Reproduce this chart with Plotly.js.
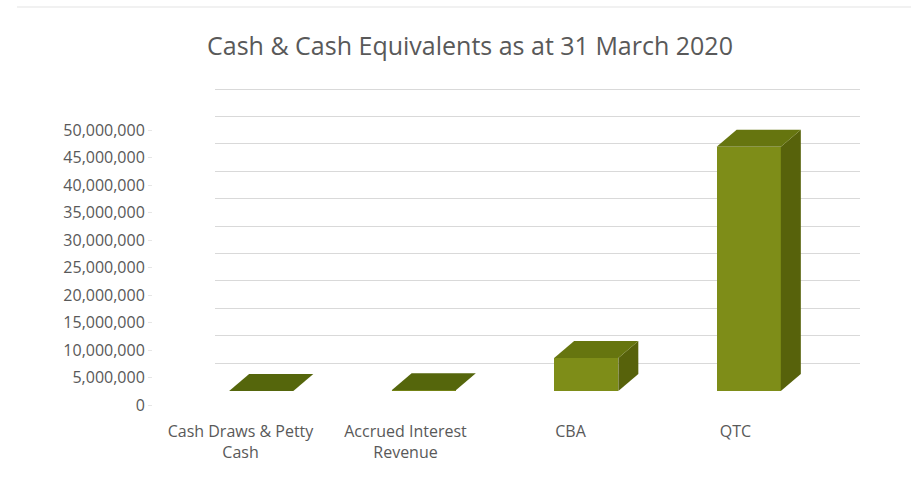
<!DOCTYPE html>
<html>
<head>
<meta charset="utf-8">
<script src="https://cdn.plot.ly/plotly-3.0.1.min.js"></script>
<style>html,body{margin:0;padding:0;background:#fff;}#chart{width:911px;height:477px;}</style>
</head>
<body>
<div id="chart"></div>
<script>
// ---- data ----
const categories = ["Cash Draws & Petty<br>Cash", "Accrued Interest<br>Revenue", "CBA", "QTC"];
const values = [3000, 150000, 6000000, 44400000];
const yTickVals = [0, 5000000, 10000000, 15000000, 20000000, 25000000, 30000000, 35000000, 40000000, 45000000, 50000000];
const yTickText = ["0", "5,000,000", "10,000,000", "15,000,000", "20,000,000", "25,000,000", "30,000,000", "35,000,000", "40,000,000", "45,000,000", "50,000,000"];

// ---- style / geometry (pixels in a 911x477 figure) ----
const W = 911, H = 477;
const fx = p => p / W, fy = p => 1 - p / H;
const barW = 0.395;          // front face width (category units)
const depthX = 0.123;        // 3D depth offset (category units)
const depthY = 3.1e6;        // 3D depth offset (value units)
const cFront = '#7e8d18', cTop = '#66750f', cSide = '#57620b';

const idx = categories.map((_, i) => i);
const traces = [];

// invisible traces to activate label and grid axes (drawn first, underneath)
traces.push({type: 'scatter', x: idx, y: values, mode: 'markers', marker: {opacity: 0}, xaxis: 'x2', yaxis: 'y2', hoverinfo: 'skip', showlegend: false});
traces.push({type: 'scatter', x: idx, y: values, mode: 'markers', marker: {opacity: 0}, xaxis: 'x', yaxis: 'y', hoverinfo: 'skip', showlegend: false});

// front faces
traces.push({type: 'bar', x: idx, y: values, width: barW, xaxis: 'x3', yaxis: 'y3',
  marker: {color: cFront, line: {width: 0}}, hoverinfo: 'skip', showlegend: false});

// top and side faces built from data
values.forEach((v, i) => {
  const l = i - barW / 2, r = i + barW / 2;
  traces.push({type: 'scatter', mode: 'lines', fill: 'toself', xaxis: 'x3', yaxis: 'y3',
    x: [r, r + depthX, r + depthX, r, r], y: [0, depthY, v + depthY, v, 0],
    fillcolor: cSide, line: {width: 0, color: cSide}, hoverinfo: 'skip', showlegend: false});
  traces.push({type: 'scatter', mode: 'lines', fill: 'toself', xaxis: 'x3', yaxis: 'y3',
    x: [l, r, r + depthX, l + depthX, l], y: [v, v, v + depthY, v + depthY, v],
    fillcolor: v < 1e6 ? '#55660c' : cTop, line: {width: 0, color: cTop}, hoverinfo: 'skip', showlegend: false});
});

const font = {family: 'Open Sans, Liberation Sans, sans-serif', size: 16, color: '#595959'};
const gridPad = 2500000, gridPx = 274 / 50000000 * gridPad;
const layout = {
  width: W, height: H,
  margin: {l: 0, r: 0, t: 0, b: 0},
  paper_bgcolor: '#fff', plot_bgcolor: 'rgba(0,0,0,0)',
  font: font,
  title: {text: 'Cash &amp; Cash Equivalents as at 31 March 2020', x: 470 / W, xanchor: 'center', y: fy(46), yanchor: 'middle',
    font: {family: 'Open Sans, sans-serif', size: 25, color: '#595959'}},
  // grid axes (back wall)
  xaxis2: {domain: [fx(215), fx(860)], range: [0, 1], anchor: 'y2', visible: false, fixedrange: true},
  yaxis2: {domain: [fy(363 + gridPx), fy(89 - gridPx)], range: [-gridPad, 50000000 + gridPad], anchor: 'x2', tickvals: yTickVals,
    showticklabels: false, showgrid: true, gridcolor: '#d9d9d9', gridwidth: 1, zeroline: false, showline: false, ticks: '', fixedrange: true},
  // label axes
  xaxis: {domain: [fx(158), fx(818)], range: [-0.5, 3.5], tickvals: idx, ticktext: categories, anchor: 'y',
    showgrid: false, zeroline: false, showline: false, ticks: 'outside', ticklen: 12, tickcolor: 'rgba(0,0,0,0)',
    tickfont: font, fixedrange: true},
  yaxis: {domain: [fy(405), fy(130)], range: [0, 50000000], tickvals: yTickVals, ticktext: yTickText,
    anchor: 'free', position: fx(152), showgrid: false, zeroline: false, showline: false,
    ticks: 'outside', ticklen: 4, tickcolor: '#e6e6e6', tickfont: font, fixedrange: true},
  // bar axes
  xaxis3: {domain: [fx(180), fx(830)], range: [-0.5, 3.5], anchor: 'y3', visible: false, fixedrange: true},
  yaxis3: {domain: [fy(391), fy(116)], range: [0, 50000000], anchor: 'x3', visible: false, fixedrange: true},
  bargap: 0,
  shapes: [
    {type: 'line', xref: 'paper', yref: 'paper', x0: fx(17), x1: 1, y0: fy(7), y1: fy(7), line: {color: '#e3e3e3', width: 1}}
  ]
};

Plotly.newPlot('chart', traces, layout, {staticPlot: true, displayModeBar: false});
</script>
</body>
</html>
